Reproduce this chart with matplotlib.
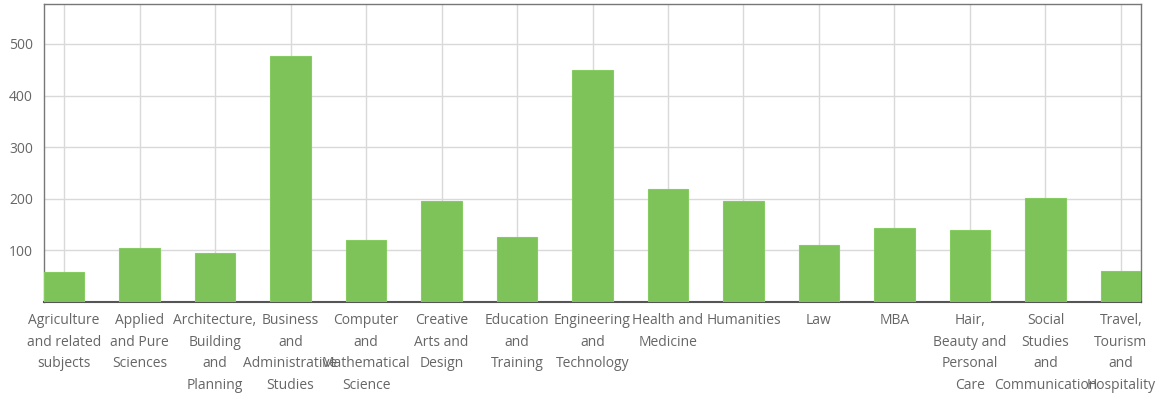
import numpy as np
import matplotlib.pyplot as plt

# Data
categories = [
    "Agriculture\nand related\nsubjects",
    "Applied\nand Pure\nSciences",
    "Architecture,\nBuilding\nand\nPlanning",
    "Business\nand\nAdministrative\nStudies",
    "Computer\nand\nMathematical\nScience",
    "Creative\nArts and\nDesign",
    "Education\nand\nTraining",
    "Engineering\nand\nTechnology",
    "Health and\nMedicine",
    "Humanities",
    "Law",
    "MBA",
    "Hair,\nBeauty and\nPersonal\nCare",
    "Social\nStudies\nand\nCommunication",
    "Travel,\nTourism\nand\nHospitality",
]
values = [58, 105, 94, 477, 119, 195, 126, 450, 219, 196, 110, 143, 139, 202, 59]
y_ticks = [100, 200, 300, 400, 500]

plt.rcParams['font.family'] = ['Open Sans', 'DejaVu Sans']

fig = plt.figure(figsize=(11.63, 4.0), dpi=100)
ax = fig.add_axes([44 / 1163, 1 - 301.7 / 400, 1097 / 1163, 297.4 / 400])

x = np.arange(len(categories))
width = 0.53
ax.bar(x, values, width=width, color='#7dc35a', edgecolor='#86cc62',
       linewidth=0.8, zorder=3)

ax.set_xlim(-width / 2, len(categories) - 1 + width / 2)
ax.set_ylim(0, 577)
ax.set_xticks(x)
ax.set_xticklabels(categories, fontsize=10, color='#666666', linespacing=1.62)
ax.set_yticks(y_ticks)
ax.set_yticklabels([str(v) for v in y_ticks], fontsize=10, color='#666666')
ax.tick_params(length=0, pad=8)
ax.tick_params(axis='x', pad=8)

ax.grid(True, color='#d9d9d9', linewidth=1, zorder=0)
for side in ['left', 'top', 'right']:
    ax.spines[side].set_color('#777777')
    ax.spines[side].set_linewidth(1)
ax.spines['bottom'].set_color('#555555')
ax.spines['bottom'].set_linewidth(1.5)

plt.savefig('out.png', dpi=100)
